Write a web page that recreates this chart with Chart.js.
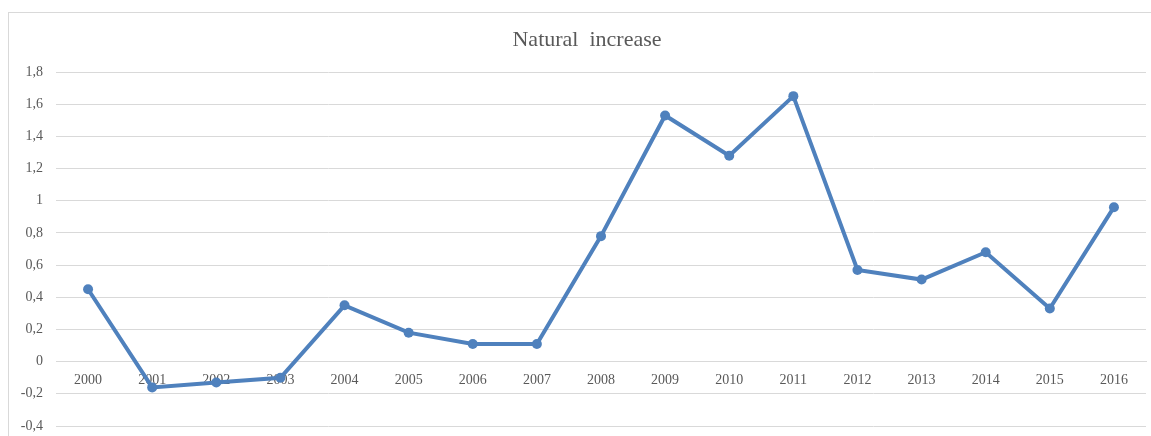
<!DOCTYPE html>
<html>
<head>
<meta charset="utf-8">
<script src="https://cdn.jsdelivr.net/npm/chart.js@4/dist/chart.umd.min.js"></script>
<style>
  html, body { margin: 0; padding: 0; background: #fff; overflow: hidden; }
  #frame {
    position: absolute; left: 8px; top: 12px;
    width: 1200px; height: 500px;
    border: 1px solid #d9d9d9;
  }
  #wrap { position: absolute; left: 0; top: 0; width: 1151px; height: 436px; }
</style>
</head>
<body>
<div id="frame"></div>
<div id="wrap"><canvas id="chart"></canvas></div>
<script>
// Years along the bottom and the yearly natural increase values
const years = ['2000', '2001', '2002', '2003', '2004', '2005', '2006', '2007', '2008',
  '2009', '2010', '2011', '2012', '2013', '2014', '2015', '2016'];
const naturalIncrease = [0.45, -0.16, -0.13, -0.10, 0.35, 0.18, 0.11, 0.11, 0.78,
  1.53, 1.28, 1.65, 0.57, 0.51, 0.68, 0.33, 0.96];

const chartTitle = 'Natural  increase';
const yMin = -0.4;
const yMax = 1.8;
const yStep = 0.2;

const textColor = '#595959';
const gridColor = '#d9d9d9';
const lineColor = '#4f81bd';

// Title drawn by hand so it can sit a bit left of the plot center
const titlePlugin = {
  id: 'customTitle',
  afterDraw(chart) {
    const ctx = chart.ctx;
    ctx.save();
    ctx.font = '22px "Liberation Serif"';
    ctx.fillStyle = textColor;
    ctx.textAlign = 'center';
    ctx.textBaseline = 'middle';
    ctx.fillText(chartTitle, 587, 40);
    ctx.restore();
  }
};

function formatTick(value) {
  const v = Math.round(value * 10) / 10;
  return String(v).replace('.', ',');
}

const ctx = document.getElementById('chart').getContext('2d');
const chart = new Chart(ctx, {
  type: 'line',
  data: {
    labels: years,
    datasets: [{
      label: 'Natural increase',
      data: naturalIncrease,
      borderColor: lineColor,
      backgroundColor: lineColor,
      borderWidth: 4,
      pointRadius: 5,
      pointBorderWidth: 0,
      pointBackgroundColor: lineColor,
      tension: 0,
    }],
  },
  options: {
    responsive: true,
    maintainAspectRatio: false,
    animation: false,
    layout: {
      padding: { left: 0, right: 4, top: 72, bottom: 10 },
    },
    plugins: {
      legend: { display: false },
      title: { display: false },
      tooltip: { enabled: false },
    },
    scales: {
      x: {
        position: { y: 0 },
        offset: true,
        afterFit(scale) {
          scale.height = 0;
          scale.paddingLeft = 0;
          scale.paddingRight = 0;
        },
        grid: { display: false, drawTicks: false },
        border: { display: true, color: gridColor, width: 1 },
        ticks: {
          color: textColor,
          font: { family: 'Liberation Serif', size: 14 },
          padding: 10,
          maxRotation: 0,
          autoSkip: false,
        },
      },
      y: {
        min: yMin,
        max: yMax,
        afterFit(scale) {
          scale.width = 56;
          scale.paddingTop = 0;
          scale.paddingBottom = 0;
        },
        grid: { color: gridColor, lineWidth: 1, drawTicks: false },
        border: { display: false },
        ticks: {
          stepSize: yStep,
          color: textColor,
          font: { family: 'Liberation Serif', size: 14 },
          padding: 13,
          callback: formatTick,
        },
      },
    },
  },
  plugins: [titlePlugin],
});
</script>
</body>
</html>
